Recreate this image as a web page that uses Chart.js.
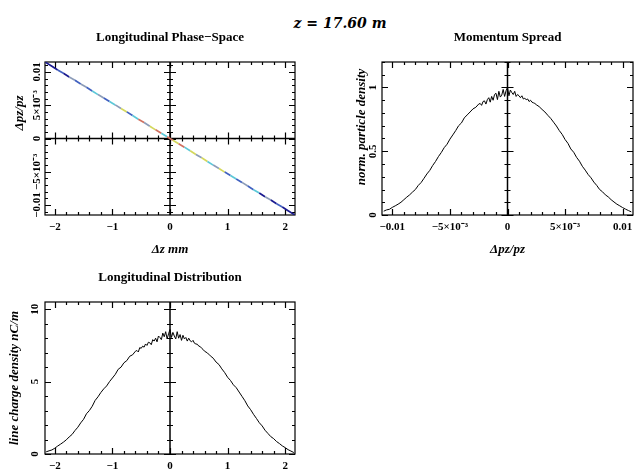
<!DOCTYPE html>
<html>
<head>
<meta charset="utf-8">
<script src="https://cdn.jsdelivr.net/npm/chart.js@4.4.1/dist/chart.umd.min.js"></script>
<style>
  body { margin: 0; width: 637px; height: 474px; background: #fff; position: relative; overflow: hidden; }
  canvas { position: absolute; }
  #mainTitle { position: absolute; left: 240px; width: 200px; top: 15px; text-align: center;
    font: italic bold 14px "DejaVu Serif", serif; color: #000; }
</style>
</head>
<body>
<div id="mainTitle">z = 17.60 m</div>
<canvas id="phase" width="318" height="240" style="left:0;top:25px"></canvas>
<canvas id="spread" width="319" height="240" style="left:318px;top:25px"></canvas>
<canvas id="dist" width="318" height="209" style="left:0;top:265px"></canvas>
<script>
// phase space: dz (mm), dp/p, density level (0 = sparse ... 5 = dense)
const phaseZ = [-2.16, -2.05, -1.95, -1.85, -1.75, -1.65, -1.55, -1.45, -1.35, -1.25, -1.15, -1.05, -0.95, -0.85, -0.75,
  -0.65, -0.55, -0.45, -0.35, -0.25, -0.15, -0.05, 0.05, 0.15, 0.25, 0.35, 0.45, 0.55, 0.65, 0.75,
  0.85, 0.95, 1.05, 1.15, 1.25, 1.35, 1.45, 1.55, 1.65, 1.75, 1.85, 1.95, 2.05, 2.16];
const phaseP = [11.45e-3, 10.85e-3, 10.3e-3, 9.8e-3, 9.25e-3, 8.75e-3, 8.2e-3, 7.7e-3, 7.15e-3, 6.6e-3, 6.1e-3, 5.55e-3, 5.05e-3, 4.5e-3, 4.0e-3,
  3.45e-3, 2.9e-3, 2.4e-3, 1.85e-3, 1.3e-3, 0.8e-3, 0.25e-3, -0.25e-3, -0.8e-3, -1.3e-3, -1.85e-3, -2.4e-3, -2.9e-3, -3.45e-3, -4.0e-3,
  -4.5e-3, -5.05e-3, -5.55e-3, -6.1e-3, -6.6e-3, -7.15e-3, -7.7e-3, -8.2e-3, -8.75e-3, -9.25e-3, -9.8e-3, -10.3e-3, -10.85e-3, -11.45e-3];
const phaseLevel = [0, 0, 1, 0, 2, 1, 2, 1, 3, 2, 1, 3, 2, 4, 1,
  3, 5, 2, 4, 5, 3, 5, 4, 5, 3, 4, 2, 4, 3, 2,
  4, 1, 3, 1, 2, 1, 3, 0, 2, 0, 1, 0, 0, 0];
const levelColors = ["#1a1a90", "#4060c0", "#8c9cb8", "#5cc8d8", "#d4d85c", "#d07060"];

// momentum spread histogram
const spreadP = [-10.75e-3, -10.5e-3, -10.25e-3, -10e-3, -9.75e-3, -9.5e-3, -9.25e-3, -9e-3, -8.75e-3, -8.5e-3, -8.25e-3, -8e-3,
  -7.75e-3, -7.5e-3, -7.25e-3, -7e-3, -6.75e-3, -6.5e-3, -6.25e-3, -6e-3, -5.75e-3, -5.5e-3, -5.25e-3, -5e-3,
  -4.75e-3, -4.5e-3, -4.25e-3, -4e-3, -3.75e-3, -3.5e-3, -3.25e-3, -3e-3, -2.75e-3,
  -2.5e-3, -2.375e-3, -2.25e-3, -2.125e-3, -2e-3, -1.875e-3, -1.75e-3, -1.625e-3, -1.5e-3, -1.375e-3, -1.25e-3, -1.125e-3,
  -1e-3, -0.875e-3, -0.75e-3, -0.625e-3, -0.5e-3, -0.375e-3, -0.25e-3, -0.125e-3, 0,
  0.125e-3, 0.25e-3, 0.375e-3, 0.5e-3, 0.625e-3, 0.75e-3, 0.875e-3, 1e-3, 1.125e-3, 1.25e-3, 1.375e-3, 1.5e-3,
  1.625e-3, 1.75e-3, 1.875e-3, 2e-3, 2.125e-3, 2.25e-3, 2.375e-3, 2.5e-3,
  2.75e-3, 3e-3, 3.25e-3, 3.5e-3, 3.75e-3, 4e-3, 4.25e-3, 4.5e-3, 4.75e-3, 5e-3, 5.25e-3, 5.5e-3, 5.75e-3, 6e-3,
  6.25e-3, 6.5e-3, 6.75e-3, 7e-3, 7.25e-3, 7.5e-3, 7.75e-3, 8e-3, 8.25e-3, 8.5e-3, 8.75e-3, 9e-3,
  9.25e-3, 9.5e-3, 9.75e-3, 10e-3, 10.25e-3, 10.5e-3, 10.75e-3];
const spreadDensity = [0.03, 0.04, 0.045, 0.06, 0.072, 0.085, 0.10, 0.12, 0.14, 0.158, 0.18, 0.20,
  0.232, 0.255, 0.288, 0.322, 0.35, 0.388, 0.42, 0.458, 0.49, 0.528, 0.555, 0.595,
  0.628, 0.662, 0.70, 0.722, 0.762, 0.785, 0.808, 0.832, 0.845,
  0.87, 0.875, 0.86, 0.89, 0.895, 0.87, 0.905, 0.92, 0.885, 0.93, 0.90, 0.945,
  0.955, 0.905, 0.97, 0.925, 0.94, 0.985, 0.93, 0.975, 1.00,
  0.935, 0.98, 0.96, 0.945, 0.97, 0.93, 0.945, 0.935, 0.92, 0.935, 0.91, 0.915,
  0.905, 0.91, 0.89, 0.90, 0.885, 0.88, 0.875, 0.865,
  0.85, 0.828, 0.808, 0.782, 0.758, 0.728, 0.698, 0.662, 0.632, 0.592, 0.562, 0.518, 0.492, 0.452,
  0.422, 0.382, 0.352, 0.318, 0.292, 0.258, 0.232, 0.20, 0.182, 0.158, 0.142, 0.12,
  0.102, 0.085, 0.072, 0.058, 0.046, 0.035, 0.025];

// longitudinal distribution histogram
const distZ = [-2.15, -2.10, -2.05, -2.00, -1.95, -1.90, -1.85, -1.80, -1.75, -1.70, -1.65, -1.60, -1.55, -1.50, -1.45,
  -1.40, -1.35, -1.30, -1.25, -1.20, -1.15, -1.10, -1.05, -1.00, -0.95, -0.90, -0.85, -0.80, -0.75, -0.70, -0.65,
  -0.600, -0.575, -0.550, -0.525, -0.500, -0.475, -0.450, -0.425, -0.400, -0.375, -0.350, -0.325, -0.300, -0.275, -0.250, -0.225,
  -0.200, -0.175, -0.150, -0.125, -0.100, -0.075, -0.050, -0.025, 0.000, 0.025, 0.050, 0.075, 0.100, 0.125, 0.150, 0.175,
  0.200, 0.225, 0.250, 0.275, 0.300, 0.325, 0.350, 0.375, 0.400, 0.425, 0.450, 0.475, 0.500, 0.525, 0.550, 0.575, 0.600,
  0.65, 0.70, 0.75, 0.80, 0.85, 0.90, 0.95, 1.00, 1.05, 1.10, 1.15, 1.20, 1.25, 1.30, 1.35, 1.40, 1.45, 1.50,
  1.55, 1.60, 1.65, 1.70, 1.75, 1.80, 1.85, 1.90, 1.95, 2.00, 2.05, 2.10, 2.15];
const distCharge = [0.15, 0.22, 0.28, 0.40, 0.55, 0.68, 0.82, 0.98, 1.18, 1.35, 1.62, 1.85, 2.15, 2.40, 2.78,
  3.00, 3.30, 3.70, 3.95, 4.25, 4.50, 4.70, 5.00, 5.25, 5.50, 5.85, 6.00, 6.30, 6.45, 6.75, 6.85,
  7.10, 7.15, 7.05, 7.35, 7.30, 7.45, 7.38, 7.60, 7.50, 7.72, 7.68, 7.55, 7.90, 7.80, 8.00, 7.75,
  8.15, 8.05, 7.90, 8.35, 8.10, 8.45, 7.95, 8.30, 8.60, 8.05, 8.40, 8.15, 7.95, 8.45, 8.00, 8.25,
  7.85, 8.20, 7.95, 8.05, 7.80, 8.00, 7.82, 7.75, 7.85, 7.65, 7.60, 7.58, 7.45, 7.42, 7.30, 7.22, 7.10,
  6.98, 6.78, 6.62, 6.35, 6.18, 5.88, 5.62, 5.30, 5.08, 4.78, 4.58, 4.28, 3.98, 3.68, 3.32, 3.06, 2.74, 2.46,
  2.16, 1.94, 1.64, 1.42, 1.20, 1.06, 0.86, 0.72, 0.56, 0.44, 0.30, 0.20, 0.10];

// tick values and labels
const zTicks = [-2, -1, 0, 1, 2];
const zTickLabels = ["\u22122", "\u22121", "0", "1", "2"];
const dpTicks = [-0.01, -0.005, 0, 0.005, 0.01];
const dpTickLabels = ["\u22120.01", "\u22125\u00d710\u207b\u00b3", "0", "5\u00d710\u207b\u00b3", "0.01"];
const densTicks = [0, 0.5, 1];
const densTickLabels = ["0", "0.5", "1"];
const chargeTicks = [0, 5, 10];
const chargeTickLabels = ["0", "5", "10"];

const tickFont = 'bold 11px "Liberation Serif", serif';
const titleFont = 'bold 13px "Liberation Serif", serif';
const axisFont = 'italic bold 13px "Liberation Serif", serif';

function minorValues(min, max, step) {
  const out = [];
  for (let k = Math.ceil(min / step - 1e-9); k * step <= max + 1e-12; k++) out.push(k * step);
  return out;
}

function isMajor(v, major) {
  return Math.abs(v / major - Math.round(v / major)) < 1e-6;
}

const framePlugin = {
  id: 'frame',
  beforeDatasetsDraw(chart, args, o) {
    const { ctx, chartArea: a, scales: { x, y } } = chart;
    ctx.save();
    ctx.strokeStyle = '#000';
    ctx.lineWidth = 1.2;
    ctx.strokeRect(a.left, a.top, a.width, a.height);
    ctx.beginPath();
    minorValues(x.min, x.max, o.xMinor).forEach(v => {
      const px = Math.round(x.getPixelForValue(v)) + 0.5;
      const len = isMajor(v, o.xMajor) ? 6 : 3;
      ctx.moveTo(px, a.bottom); ctx.lineTo(px, a.bottom - len);
      ctx.moveTo(px, a.top); ctx.lineTo(px, a.top + len);
      if (o.zeroY) {
        const py0 = y.getPixelForValue(0);
        ctx.moveTo(px, py0 - len); ctx.lineTo(px, py0 + len);
      }
    });
    minorValues(y.min, y.max, o.yMinor).forEach(v => {
      const py = Math.round(y.getPixelForValue(v)) + 0.5;
      const len = isMajor(v, o.yMajor) ? 6 : 3;
      ctx.moveTo(a.left, py); ctx.lineTo(a.left + len, py);
      ctx.moveTo(a.right, py); ctx.lineTo(a.right - len, py);
      if (o.zeroX) {
        const px0 = x.getPixelForValue(0);
        ctx.moveTo(px0 - len, py); ctx.lineTo(px0 + len, py);
      }
    });
    ctx.stroke();
    ctx.lineWidth = 1.5;
    ctx.beginPath();
    if (o.zeroX) {
      const px0 = x.getPixelForValue(0);
      ctx.moveTo(px0, a.top); ctx.lineTo(px0, a.bottom);
    }
    if (o.zeroY) {
      const py0 = y.getPixelForValue(0);
      ctx.moveTo(a.left, py0); ctx.lineTo(a.right, py0);
    }
    ctx.stroke();
    ctx.restore();
  },
  afterDraw(chart, args, o) {
    const { ctx, chartArea: a, scales: { x, y } } = chart;
    ctx.save();
    ctx.fillStyle = '#000';
    ctx.textAlign = 'center';
    ctx.textBaseline = 'middle';
    ctx.font = titleFont;
    ctx.fillText(o.title, (a.left + a.right) / 2, a.top - 24);
    ctx.font = tickFont;
    o.xTicks.forEach((v, i) => ctx.fillText(o.xLabels[i], x.getPixelForValue(v), a.bottom + 12));
    o.yTicks.forEach((v, i) => {
      ctx.save();
      ctx.translate(a.left - o.yLabelGap, y.getPixelForValue(v));
      ctx.rotate(-Math.PI / 2);
      ctx.fillText(o.yLabels[i], 0, 0);
      ctx.restore();
    });
    ctx.font = axisFont;
    if (o.xTitle) ctx.fillText(o.xTitle, (a.left + a.right) / 2, a.bottom + 35);
    ctx.translate(a.left - o.yTitleGap, o.yTitleY);
    ctx.rotate(-Math.PI / 2);
    ctx.fillText(o.yTitle, 0, 0);
    ctx.restore();
  }
};

function hiddenScales(xmin, xmax, ymin, ymax) {
  return {
    x: { type: 'linear', min: xmin, max: xmax, display: false },
    y: { type: 'linear', min: ymin, max: ymax, display: false }
  };
}

const points = (xs, ys) => xs.map((v, i) => ({ x: v, y: ys[i] }));

new Chart(document.getElementById('phase'), {
  type: 'scatter',
  data: {
    datasets: [{
      data: points(phaseZ, phaseP),
      showLine: true,
      borderWidth: 1.7,
      pointRadius: 0,
      segment: { borderColor: c => levelColors[phaseLevel[c.p0DataIndex]] }
    }]
  },
  options: {
    responsive: false,
    animation: false,
    layout: { padding: { left: 45, right: 23, top: 37, bottom: 50 } },
    scales: hiddenScales(-2.17, 2.17, -0.0115, 0.0115),
    plugins: {
      legend: { display: false },
      tooltip: { enabled: false },
      frame: {
        title: 'Longitudinal Phase\u2212Space', xTitle: '\u0394z mm', yTitle: '\u0394pz/pz',
        xMajor: 1, xMinor: 0.2, yMajor: 0.005, yMinor: 0.001, zeroX: true, zeroY: true,
        xTicks: zTicks, xLabels: zTickLabels, yTicks: dpTicks, yLabels: dpTickLabels,
        yLabelGap: 8, yTitleGap: 25, yTitleY: 88
      }
    }
  },
  plugins: [framePlugin]
});

new Chart(document.getElementById('spread'), {
  type: 'line',
  data: {
    datasets: [{ data: points(spreadP, spreadDensity), borderColor: '#000', borderWidth: 1, pointRadius: 0, tension: 0 }]
  },
  options: {
    responsive: false,
    animation: false,
    layout: { padding: { left: 64, right: 4, top: 37, bottom: 50 } },
    scales: hiddenScales(-0.0109, 0.0109, 0, 1.2),
    plugins: {
      legend: { display: false },
      tooltip: { enabled: false },
      frame: {
        title: 'Momentum Spread', xTitle: '\u0394pz/pz', yTitle: 'norm. particle density',
        xMajor: 0.005, xMinor: 0.001, yMajor: 0.5, yMinor: 0.1, zeroX: true, zeroY: false,
        xTicks: dpTicks, xLabels: dpTickLabels, yTicks: densTicks, yLabels: densTickLabels,
        yLabelGap: 9, yTitleGap: 20, yTitleY: 102
      }
    }
  },
  plugins: [framePlugin]
});

new Chart(document.getElementById('dist'), {
  type: 'line',
  data: {
    datasets: [{ data: points(distZ, distCharge), borderColor: '#000', borderWidth: 1, pointRadius: 0, tension: 0 }]
  },
  options: {
    responsive: false,
    animation: false,
    layout: { padding: { left: 45, right: 23, top: 37, bottom: 20 } },
    scales: hiddenScales(-2.17, 2.17, 0, 10.5),
    plugins: {
      legend: { display: false },
      tooltip: { enabled: false },
      frame: {
        title: 'Longitudinal Distribution', xTitle: '', yTitle: 'line charge density nC/m',
        xMajor: 1, xMinor: 0.2, yMajor: 5, yMinor: 1, zeroX: true, zeroY: false,
        xTicks: zTicks, xLabels: zTickLabels, yTicks: chargeTicks, yLabels: chargeTickLabels,
        yLabelGap: 10, yTitleGap: 30, yTitleY: 113
      }
    }
  },
  plugins: [framePlugin]
});
</script>
</body>
</html>
